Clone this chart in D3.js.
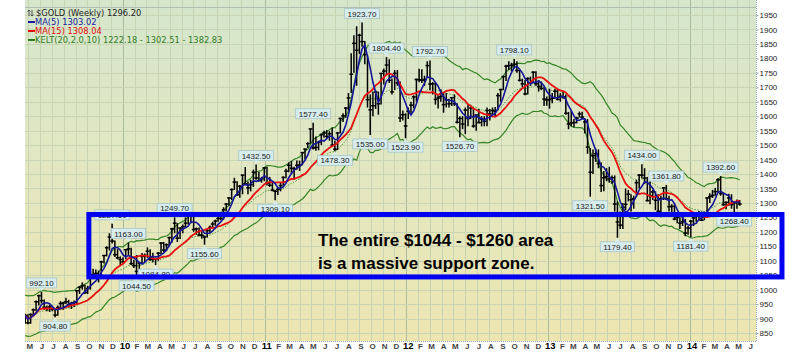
<!DOCTYPE html>
<html>
<head>
<meta charset="utf-8">
<script src="https://cdn.jsdelivr.net/npm/d3@7"></script>
<style>
  body { margin: 0; background: #fff; }
  svg { display: block; }
</style>
</head>
<body>
<div id="chart"></div>
<script>
// Weekly $GOLD bars, first week ending Fri 24 Apr 2009, one line per month
const firstWeek = new Date(2009, 3, 24);

const weekHigh = [
  // 2009
  917,
  915, 918, 935, 962, 982,
  992.1, 966, 945, 948,
  945, 935, 945, 960, 958,
  972, 965, 958, 962,
  998, 1011, 1025, 1018,
  1013, 1062, 1072, 1070, 1066,
  1100, 1120, 1150, 1195,
  1227.5, 1170, 1140, 1115,
  // 2010
  1112, 1140, 1163, 1145, 1103,
  1120, 1095, 1127, 1125,
  1146, 1140, 1128, 1110,
  1130, 1164, 1165, 1160, 1183,
  1214, 1249.7, 1230, 1215,
  1225, 1250, 1265, 1262,
  1260, 1215, 1215, 1202, 1187,
  1210, 1222, 1235, 1242,
  1255, 1258, 1285, 1300,
  1320, 1350, 1387, 1375, 1362,
  1398, 1424, 1374, 1380,
  1415, 1432.5, 1408, 1390, 1424,
  // 2011
  1425, 1390, 1375, 1345,
  1356, 1372, 1392, 1418,
  1440, 1445, 1425, 1447,
  1446, 1476, 1488, 1510, 1556,
  1577.4, 1530, 1515, 1540,
  1550, 1552, 1548, 1560,
  1515, 1545, 1595, 1610, 1632,
  1680, 1818, 1880, 1911,
  1885, 1923.7, 1860, 1810, 1675,
  1685, 1690, 1685, 1748,
  1765, 1804.4, 1797, 1730,
  1760, 1760, 1720, 1620, 1610,
  // 2012
  1630, 1650, 1672, 1730,
  1764, 1762, 1740, 1790,
  1792.7, 1718, 1715, 1672, 1693,
  1680, 1680, 1660, 1665,
  1675, 1645, 1600, 1600,
  1630, 1640, 1630, 1630, 1605,
  1625, 1600, 1600, 1630,
  1625, 1630, 1632, 1680, 1695,
  1740, 1778, 1790, 1785,
  1798.1, 1790, 1760, 1730,
  1725, 1735, 1737, 1755, 1755,
  1725, 1720, 1700, 1668,
  // 2013
  1695, 1680, 1695, 1695,
  1680, 1685, 1675, 1615,
  1620, 1590, 1598, 1616, 1615,
  1590, 1590, 1490, 1485,
  1488, 1485, 1440, 1410, 1420,
  1425, 1395, 1395, 1305,
  1270, 1300, 1350, 1345,
  1330, 1325, 1380, 1400, 1434,
  1420, 1390, 1375, 1345,
  1340, 1330, 1325, 1355,
  1361.8, 1325, 1295, 1295, 1260,
  1250, 1260, 1245, 1220,
  // 2014
  1240, 1250, 1260, 1272, 1270,
  1270, 1320, 1333, 1345,
  1352, 1385, 1392.6, 1335,
  1305, 1332, 1330, 1305,
  1312, 1310
];

const weekLow = [
  // 2009
  882,
  880, 882, 910, 925, 945,
  952, 930, 925, 923,
  925, 904.8, 910, 935, 930,
  950, 938, 933, 940,
  950, 985, 1000, 985,
  985, 1000, 1040, 1040, 1025,
  1040, 1090, 1115, 1135,
  1160, 1113, 1105, 1085,
  // 2010
  1090, 1105, 1120, 1085, 1075,
  1044.5, 1060, 1090, 1095,
  1110, 1100, 1095, 1084.8,
  1100, 1122, 1130, 1133, 1150,
  1162, 1195, 1165, 1175,
  1195, 1215, 1225, 1230,
  1200, 1190, 1185, 1176, 1155.6,
  1180, 1195, 1215, 1221,
  1235, 1240, 1242, 1270,
  1290, 1310, 1345, 1325, 1318,
  1330, 1363, 1330, 1340,
  1355, 1380, 1375, 1370, 1375,
  // 2011
  1360, 1355, 1340, 1309.1,
  1327, 1340, 1360, 1385,
  1406, 1400, 1380, 1415,
  1410, 1430, 1450, 1490, 1505,
  1485, 1480, 1482, 1500,
  1525, 1525, 1515, 1495,
  1478.3, 1483, 1540, 1580, 1595,
  1620, 1680, 1750, 1705,
  1815, 1840, 1780, 1630, 1535,
  1600, 1625, 1605, 1640,
  1710, 1742, 1715, 1675,
  1690, 1705, 1580, 1585, 1523.9,
  // 2012
  1590, 1606, 1627, 1650,
  1717, 1715, 1705, 1735,
  1690, 1675, 1640, 1627, 1650,
  1612, 1630, 1630, 1635,
  1635, 1575, 1526.7, 1555,
  1538, 1565, 1590, 1560, 1550,
  1575, 1565, 1565, 1565,
  1585, 1605, 1600, 1620, 1650,
  1690, 1722, 1760, 1755,
  1765, 1750, 1720, 1700,
  1672, 1675, 1705, 1715, 1705,
  1685, 1690, 1635, 1636,
  // 2013
  1626, 1645, 1660, 1655,
  1650, 1660, 1605, 1555,
  1565, 1562, 1575, 1595, 1590,
  1540, 1470, 1321.5, 1400,
  1442, 1420, 1338, 1340, 1375,
  1370, 1365, 1270, 1179.4,
  1210, 1210, 1275, 1305,
  1270, 1280, 1320, 1350, 1385,
  1365, 1305, 1295, 1310,
  1275, 1260, 1250, 1310,
  1310, 1270, 1265, 1240, 1230,
  1210, 1220, 1185, 1190,
  // 2014
  1181.4, 1220, 1235, 1238, 1238,
  1240, 1260, 1300, 1317,
  1325, 1335, 1325, 1290,
  1278, 1290, 1280, 1268.4,
  1280, 1290
];

const weekClose = [
  // 2009
  911,
  885, 914, 930, 958, 979,
  962, 939, 935, 940,
  932, 912, 938, 952, 954,
  958, 948, 952, 955,
  996, 1008, 1013, 990,
  1004, 1050, 1052, 1056, 1045,
  1096, 1118, 1145, 1182,
  1168, 1121, 1110, 1104,
  // 2010
  1096, 1138, 1141, 1090, 1083,
  1063, 1092, 1115, 1118,
  1133, 1104, 1105, 1106,
  1126, 1161, 1137, 1155, 1180,
  1210, 1230, 1178, 1213,
  1218, 1230, 1257, 1256,
  1208, 1210, 1189, 1188, 1182,
  1204, 1215, 1227, 1237,
  1246, 1246, 1276, 1296,
  1317, 1346, 1372, 1328, 1358,
  1396, 1366, 1352, 1363,
  1406, 1386, 1377, 1383, 1421,
  // 2011
  1368, 1361, 1344, 1340,
  1347, 1360, 1388, 1410,
  1430, 1420, 1418, 1430,
  1430, 1474, 1486, 1505, 1556,
  1490, 1492, 1510, 1536,
  1542, 1530, 1539, 1500,
  1486, 1542, 1592, 1601, 1628,
  1663, 1745, 1852, 1828,
  1880, 1858, 1813, 1657, 1622,
  1636, 1683, 1643, 1748,
  1756, 1777, 1724, 1684,
  1748, 1715, 1594, 1605, 1566,
  // 2012
  1617, 1638, 1667, 1727,
  1726, 1724, 1727, 1775,
  1711, 1712, 1658, 1663, 1668,
  1640, 1656, 1643, 1664,
  1643, 1579, 1592, 1573,
  1621, 1592, 1628, 1566, 1604,
  1578, 1590, 1582, 1620,
  1608, 1620, 1616, 1671, 1692,
  1737, 1773, 1775, 1776,
  1780, 1758, 1724, 1712,
  1677, 1730, 1714, 1752, 1712,
  1702, 1696, 1659, 1656,
  // 2013
  1657, 1662, 1686, 1658,
  1669, 1667, 1610, 1573,
  1577, 1578, 1593, 1608, 1597,
  1580, 1493, 1406, 1463,
  1470, 1436, 1360, 1387, 1391,
  1383, 1387, 1296, 1234,
  1223, 1285, 1295, 1330,
  1311, 1315, 1370, 1396, 1396,
  1386, 1308, 1325, 1338,
  1309, 1271, 1315, 1352,
  1315, 1287, 1288, 1244, 1250,
  1230, 1235, 1196, 1213,
  // 2014
  1237, 1248, 1254, 1265, 1240,
  1263, 1317, 1322, 1326,
  1339, 1380, 1332, 1294,
  1302, 1317, 1294, 1300,
  1302, 1296.2
];

// labelled swing highs / lows
const peakLabels = [992.1, 1227.5, 1163, 1249.7, 1432.5, 1577.4, 1923.7, 1804.4, 1792.7, 1798.1, 1434, 1361.8, 1392.6];
const troughLabels = [904.8, 1044.5, 1084.8, 1155.6, 1309.1, 1478.3, 1535, 1523.9, 1526.7, 1321.5, 1179.4, 1181.4, 1268.4];

const priceTicks = [850, 900, 950, 1000, 1050, 1100, 1150, 1200, 1250, 1300, 1350, 1400,
  1450, 1500, 1550, 1600, 1650, 1700, 1750, 1800, 1850, 1900, 1950];
const monthLetters = ["J", "F", "M", "A", "M", "J", "J", "A", "S", "O", "N", "D"];

const legendRows = [
  { text: "MA(5) 1303.02", color: "#1b1b9e" },
  { text: "MA(15) 1308.04", color: "#e01010" },
  { text: "KELT(20,2.0,10) 1222.18 - 1302.51 - 1382.83", color: "#2f7d1f" }
];

// support zone annotation
const zoneLow = 1044, zoneHigh = 1260;
const zoneStart = new Date(2009, 9, 5), zoneEnd = new Date(2014, 7, 26);
const noteLines = ["The entire $1044 - $1260 area", "is a massive support zone."];

const width = 800, height = 352;
const plot = { left: 25, right: 756, top: 0, bottom: 341 };

const weeks = weekClose.map((c, i) => ({
  date: d3.timeWeek.offset(firstWeek, i),
  high: weekHigh[i], low: weekLow[i], close: c
}));

// indicators
function sma(n) {
  return weeks.map((d, i) => d3.mean(weeks.slice(Math.max(0, i - n + 1), i + 1), w => w.close));
}
const ma5 = sma(5);
const ma15 = sma(15);
const ema20 = [];
weeks.forEach((d, i) => {
  const k = 2 / 21;
  ema20.push(i === 0 ? d.close : d.close * k + ema20[i - 1] * (1 - k));
});
const atr10 = [];
weeks.forEach((d, i) => {
  const tr = i === 0 ? d.high - d.low
    : Math.max(d.high - d.low, Math.abs(d.high - weeks[i - 1].close), Math.abs(d.low - weeks[i - 1].close));
  atr10.push(i === 0 ? tr : (atr10[i - 1] * 9 + tr) / 10);
});

const x = d3.scaleTime()
  .domain([new Date(2010, 0, 1), new Date(2014, 0, 1)])
  .range([123, 690]);
const y = d3.scaleLinear().domain([850, 1950]).range([333, 15]);

const svg = d3.select("#chart").append("svg")
  .attr("width", width).attr("height", height)
  .style("font-family", "Arial, 'Liberation Sans', sans-serif");

const defs = svg.append("defs");
const grad = defs.append("linearGradient").attr("id", "bg")
  .attr("x1", 0).attr("y1", 0).attr("x2", 0).attr("y2", 1);
grad.append("stop").attr("offset", "0%").attr("stop-color", "#d5e6cc");
grad.append("stop").attr("offset", "50%").attr("stop-color", "#e2e7c1");
grad.append("stop").attr("offset", "100%").attr("stop-color", "#ede6b1");
defs.append("clipPath").attr("id", "clip").append("rect")
  .attr("x", plot.left).attr("y", plot.top)
  .attr("width", plot.right - plot.left).attr("height", plot.bottom - plot.top);

svg.append("rect")
  .attr("x", plot.left).attr("y", plot.top)
  .attr("width", plot.right - plot.left).attr("height", plot.bottom - plot.top)
  .attr("fill", "url(#bg)");

// grid
const months = d3.timeMonth.range(new Date(2009, 4, 1), new Date(2014, 6, 1));
const grid = svg.append("g").attr("clip-path", "url(#clip)");
grid.selectAll("line.v").data(months).enter().append("line")
  .attr("x1", d => Math.round(x(d)) + 0.5).attr("x2", d => Math.round(x(d)) + 0.5)
  .attr("y1", plot.top).attr("y2", plot.bottom)
  .attr("stroke", d => d.getMonth() === 0 ? "#a9bb9c" : "#c9d4b4")
  .attr("stroke-width", 1);
grid.selectAll("line.h").data(priceTicks).enter().append("line")
  .attr("x1", plot.left).attr("x2", plot.right)
  .attr("y1", d => Math.round(y(d)) + 0.5).attr("y2", d => Math.round(y(d)) + 0.5)
  .attr("stroke", "#c9d4b4").attr("stroke-width", 1);
grid.append("line")
  .attr("x1", plot.left).attr("x2", plot.right).attr("y1", 7.5).attr("y2", 7.5)
  .attr("stroke", "#aebfae").attr("stroke-width", 1);

// plot border (dotted)
svg.append("path")
  .attr("d", `M${plot.right + 0.5},${plot.top}V${plot.bottom + 0.5}H${plot.left}`)
  .attr("fill", "none").attr("stroke", "#8fa7b8").attr("stroke-dasharray", "1,1");

const marks = svg.append("g").attr("clip-path", "url(#clip)");

const line = vals => d3.line()
  .x((d, i) => x(weeks[i].date))
  .y(d => y(d))(vals);

// Keltner channel
marks.append("path").attr("d", line(ema20.map((m, i) => m + 2 * atr10[i])))
  .attr("fill", "none").attr("stroke", "#358526").attr("stroke-width", 1.2);
marks.append("path").attr("d", line(ema20.map((m, i) => m - 2 * atr10[i])))
  .attr("fill", "none").attr("stroke", "#358526").attr("stroke-width", 1.2);
marks.append("path").attr("d", line(ema20))
  .attr("fill", "none").attr("stroke", "#4f9a3c").attr("stroke-width", 1)
  .attr("stroke-dasharray", "1.5,1.5");

// price bars
const bars = marks.append("g").attr("stroke", "#000").attr("stroke-width", 1.5);
bars.selectAll("line.hl").data(weeks).enter().append("line")
  .attr("x1", d => x(d.date)).attr("x2", d => x(d.date))
  .attr("y1", d => y(d.high)).attr("y2", d => y(d.low));
bars.selectAll("line.c").data(weeks).enter().append("line")
  .attr("x1", d => x(d.date) - 1.8).attr("x2", d => x(d.date) + 2)
  .attr("y1", d => y(d.close)).attr("y2", d => y(d.close));

// moving averages
marks.append("path").attr("d", line(ma15))
  .attr("fill", "none").attr("stroke", "#e81010").attr("stroke-width", 1.8);
marks.append("path").attr("d", line(ma5))
  .attr("fill", "none").attr("stroke", "#16169a").attr("stroke-width", 1.6);

// swing labels
function priceLabel(v, isPeak) {
  const d = weeks.find(w => (isPeak ? w.high : w.low) === v);
  if (!d) return;
  const cx = x(d.date);
  const py = y(isPeak ? d.high : d.low);
  const txt = v.toFixed(2);
  const g = svg.append("g");
  const t = g.append("text").text(txt)
    .attr("font-size", 8).attr("fill", "#1a1a1a").attr("text-anchor", "middle");
  const w = t.node().getComputedTextLength() + 6, h = 10;
  const by = isPeak ? py - 4 - h : py + 4;
  g.insert("rect", "text")
    .attr("x", cx - w / 2).attr("y", by).attr("width", w).attr("height", h)
    .attr("fill", "#d7ecec").attr("stroke", "#a8c4c8").attr("stroke-width", 0.8);
  g.insert("path", "text")
    .attr("d", isPeak
      ? `M${cx - 3},${by + h}L${cx},${py - 1}L${cx + 3},${by + h}Z`
      : `M${cx - 3},${by}L${cx},${py + 1}L${cx + 3},${by}Z`)
    .attr("fill", "#d7ecec");
  t.attr("x", cx).attr("y", by + 8);
}
peakLabels.forEach(v => priceLabel(v, true));
troughLabels.forEach(v => priceLabel(v, false));

// right price axis
const yAxis = svg.append("g").attr("transform", `translate(${plot.right + 0.5},0)`)
  .call(d3.axisRight(y).tickValues(priceTicks).tickSize(2).tickFormat(d3.format("d")));
yAxis.select(".domain").remove();
yAxis.selectAll("line").attr("stroke", "#8fa7b8");
yAxis.selectAll("text").attr("font-size", 8).attr("fill", "#222").attr("x", 3)
  .attr("font-family", "Arial, 'Liberation Sans', sans-serif");

// month axis
const axisG = svg.append("g");
axisG.selectAll("text").data(months.filter(m => x(m) > plot.left && x(m) < plot.right)).enter()
  .append("text")
  .attr("x", d => x(d) + 2).attr("y", 349)
  .attr("text-anchor", "middle")
  .attr("font-size", d => d.getMonth() === 0 ? 9.5 : 8)
  .attr("font-weight", "bold")
  .attr("fill", d => d.getMonth() === 0 ? "#000" : "#444")
  .text(d => d.getMonth() === 0 ? d3.timeFormat("%y")(d) : monthLetters[d.getMonth()]);

// legend
const legend = svg.append("g").style("font-family", "Verdana, 'DejaVu Sans', sans-serif").attr("font-size", 8.3);
legend.append("path").attr("d", "M29,10V16M27.5,11.5L29,10L30.5,11.5M32,10V16M30.5,14.5L32,16L33.5,14.5")
  .attr("stroke", "#444").attr("fill", "none").attr("stroke-width", 0.9);
legend.append("text").attr("x", 36).attr("y", 16).attr("fill", "#222")
  .text("$GOLD (Weekly) 1296.20");
legendRows.forEach((r, i) => {
  const ly = 25 + i * 9;
  legend.append("line").attr("x1", 28).attr("x2", 35).attr("y1", ly - 3).attr("y2", ly - 3)
    .attr("stroke", r.color).attr("stroke-width", 2);
  legend.append("text").attr("x", 35).attr("y", ly).attr("fill", r.color).text(r.text);
});

// support zone box
svg.append("rect")
  .attr("x", x(zoneStart)).attr("y", y(zoneHigh))
  .attr("width", x(zoneEnd) - x(zoneStart)).attr("height", y(zoneLow) - y(zoneHigh))
  .attr("fill", "none").attr("stroke", "#0000f0").attr("stroke-width", 5);
svg.append("g").selectAll("text").data(noteLines).enter().append("text")
  .attr("x", 318).attr("y", (d, i) => 246 + i * 23)
  .attr("font-size", 17).attr("font-weight", "bold").attr("fill", "#000")
  .text(d => d);
</script>
</body>
</html>
